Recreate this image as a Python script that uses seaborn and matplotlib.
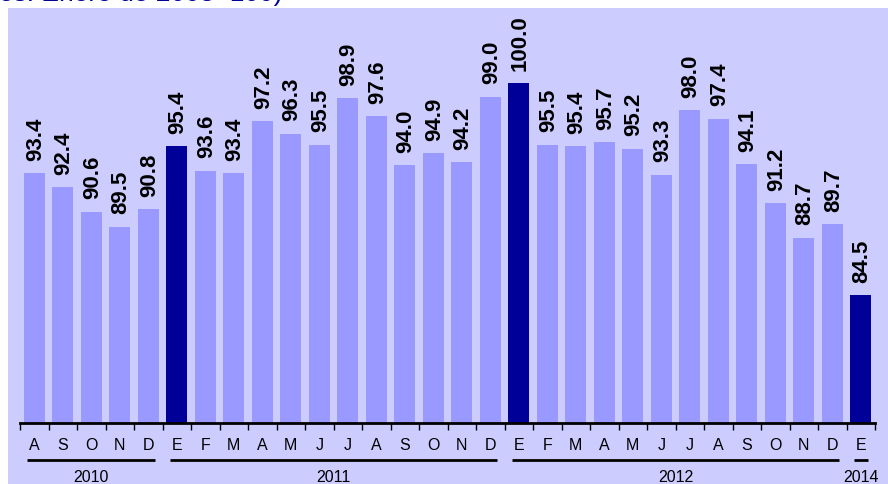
import numpy as np
import pandas as pd
import matplotlib
matplotlib.use("Agg")
import matplotlib.pyplot as plt
from matplotlib.patches import Rectangle
import seaborn as sns

# Datos
meses = ["A", "S", "O", "N", "D",
         "E", "F", "M", "A", "M", "J", "J", "A", "S", "O", "N", "D",
         "E", "F", "M", "A", "M", "J", "J", "A", "S", "O", "N", "D",
         "E"]
valores = [93.4, 92.4, 90.6, 89.5, 90.8,
           95.4, 93.6, 93.4, 97.2, 96.3, 95.5, 98.9, 97.6, 94.0, 94.9, 94.2, 99.0,
           100.0, 95.5, 95.4, 95.7, 95.2, 93.3, 98.0, 97.4, 94.1, 91.2, 88.7, 89.7,
           84.5]
anios = ["2010", "2011", "2012", "2014"]
meses_por_anio = [5, 12, 12, 1]
titulo = "(Índices: Enero de 2008=100)"

fondo = "#ccccff"
claro = "#9999ff"
oscuro = "#000099"

df = pd.DataFrame({"pos": np.arange(len(valores)), "mes": meses, "valor": valores})
df["color"] = [oscuro if m == "E" else claro for m in df["mes"]]

sns.set_style("white")
plt.rcParams["font.family"] = ["Liberation Sans", "DejaVu Sans"]

fig = plt.figure(figsize=(8.88, 4.85), dpi=100)
fig.patch.set_facecolor("white")
fig.patches.append(Rectangle((8 / 888, 0), 1, 1 - 9 / 485, transform=fig.transFigure,
                             facecolor=fondo, edgecolor="none", zorder=-5))

ax = fig.add_axes([20 / 888, 1 - 424 / 485, 855 / 888, 415 / 485])
ax.set_facecolor("none")
ax.set_zorder(2)

sns.barplot(data=df, x="pos", y="valor", hue="pos", palette=list(df["color"]),
            legend=False, width=0.74, saturation=1, linewidth=0, ax=ax, zorder=2)

ax.set_xlim(-0.5, len(valores) - 0.5)
ax.set_ylim(75.15, 105.48)

for p, v in zip(df["pos"], df["valor"]):
    ax.annotate(f"{v:.1f}", (p, v), xytext=(1, 9.5), textcoords="offset points",
                rotation=90, ha="center", va="bottom", fontsize=16,
                fontweight="bold", color="black")

for s in ["top", "right", "left"]:
    ax.spines[s].set_visible(False)
ax.spines["bottom"].set_linewidth(2)
ax.spines["bottom"].set_color("black")
ax.set_yticks([])
ax.set_xlabel("")
ax.set_ylabel("")

# marcas en los límites entre barras
ax.set_xticks(np.arange(-0.5, len(valores), 1.0))
ax.set_xticklabels([])
ax.tick_params(axis="x", direction="out", length=5, width=1, color="black", bottom=True)

trans = ax.get_xaxis_transform()
for p, m in zip(df["pos"], df["mes"]):
    ax.text(p, -0.052, m, transform=trans, ha="center", va="center",
            fontsize=11.5, color="black", clip_on=False)

inicio = -0.5
for anio, n in zip(anios, meses_por_anio):
    fin = inicio + n
    ax.plot([inicio + 0.25, fin - 0.25], [-0.089, -0.089], transform=trans,
            color="black", lw=2, clip_on=False, solid_capstyle="butt")
    ax.text((inicio + fin) / 2, -0.128, anio, transform=trans, ha="center",
            va="center", fontsize=11.5, color="black", clip_on=False)
    inicio = fin

fig.text(282 / 888, 1 - 1 / 485, titulo, ha="right", va="baseline",
         fontsize=19, color=oscuro)

fig.savefig("out.png", dpi=100)
